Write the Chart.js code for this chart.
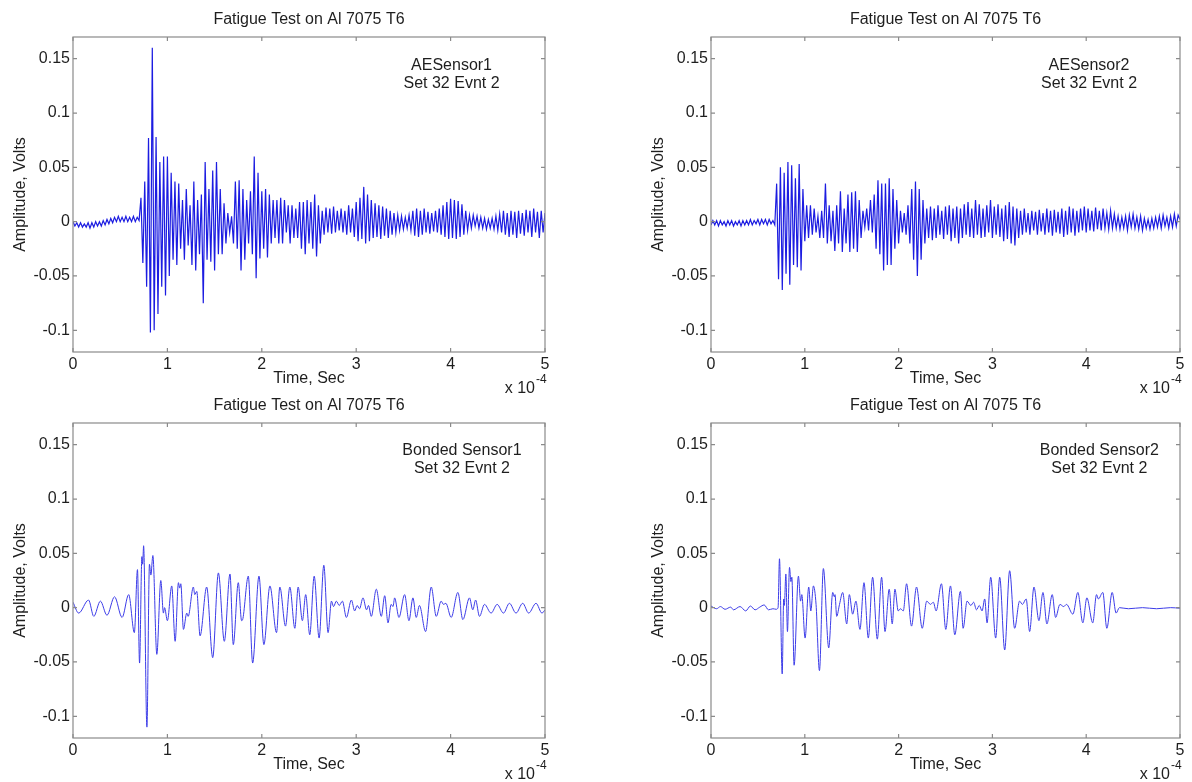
<!DOCTYPE html>
<html>
<head>
<meta charset="utf-8">
<script src="https://cdn.jsdelivr.net/npm/chart.js@4/dist/chart.umd.min.js"></script>
<style>
  body { margin: 0; background: #fff; }
  .wrap { position: relative; width: 1192px; height: 782px; }
  canvas { position: absolute; }
</style>
</head>
<body>
<div class="wrap">
  <canvas id="ae1" width="596" height="396" style="left:0;top:0"></canvas>
  <canvas id="ae2" width="554" height="396" style="left:638px;top:0"></canvas>
  <canvas id="bs1" width="596" height="396" style="left:0;top:386px"></canvas>
  <canvas id="bs2" width="554" height="396" style="left:638px;top:386px"></canvas>
</div>
<script>
const TITLE = 'Fatigue Test on Al 7075 T6';
const X_LABEL = 'Time, Sec';
const Y_LABEL = 'Amplitude, Volts';
const TIME_TICKS = [0, 1, 2, 3, 4, 5];           // x 10^-4 s
const AMP_TICKS = [-0.1, -0.05, 0, 0.05, 0.1, 0.15];
const EVENT = 'Set 32 Evnt 2';

// AE sensors: sampled every 0.02 (x10^-4 s) from 0 to 5
const AE_STEP = 0.02;
const AE1_AMP = [
  0.000,-0.004,-0.001,-0.005,-0.001,-0.005,-0.002,-0.005,-0.001,-0.006,
  -0.001,-0.005,0.000,-0.004,0.000,-0.004,0.001,-0.003,0.002,-0.002,
  0.003,-0.001,0.004,0.000,0.005,0.000,0.004,0.000,0.005,0.000,
  0.004,0.000,0.005,0.000,0.004,0.001,
  0.022,-0.038,0.037,-0.060,0.077,-0.102,0.160,-0.100,0.078,-0.085,
  0.055,-0.060,0.060,-0.068,0.060,-0.050,0.045,-0.035,0.037,-0.040,
  0.035,-0.025,0.020,-0.035,0.030,-0.022,0.015,-0.040,0.037,-0.045,
  0.020,-0.030,0.025,-0.075,0.055,-0.035,0.030,
  -0.037,0.047,-0.045,0.055,-0.030,0.030,-0.030,0.017,-0.020,0.008,
  -0.010,0.005,-0.020,0.037,-0.025,0.038,-0.045,0.030,-0.035,0.020,
  -0.020,0.028,-0.030,0.060,-0.052,0.045,-0.034,0.028,-0.025,0.030,
  -0.033,0.025,-0.020,0.020,-0.015,0.020,-0.020,0.022,-0.020,0.020,
  -0.010,0.015,-0.020,0.015,-0.015,0.012,-0.015,0.018,-0.025,0.018,
  -0.030,0.020,-0.020,0.018,-0.025,0.025,-0.032,0.015,-0.020,0.010,
  -0.012,0.013,-0.010,0.012,-0.011,0.014,-0.010,0.010,-0.008,0.012,
  -0.010,0.010,-0.012,0.015,-0.010,0.012,-0.014,0.018,-0.018,0.022,
  -0.016,0.032,-0.020,0.025,-0.018,0.020,-0.015,0.017,-0.014,0.015,
  -0.016,0.014,-0.013,0.012,-0.015,0.010,-0.012,0.008,-0.010,0.006,
  -0.008,0.005,-0.007,0.004,-0.006,0.006,-0.008,0.010,-0.013,0.012,
  -0.014,0.010,-0.012,0.012,-0.010,0.009,-0.011,0.008,-0.009,0.010,
  -0.010,0.012,-0.012,0.015,-0.014,0.018,-0.016,0.021,-0.015,0.020,
  -0.016,0.019,-0.014,0.016,-0.012,0.010,-0.008,0.006,-0.006,0.006,
  -0.004,0.005,-0.006,0.004,-0.006,0.003,-0.007,0.002,-0.006,0.003,
  -0.007,0.005,-0.008,0.007,-0.010,0.010,-0.012,0.008,-0.014,0.010,
  -0.012,0.009,-0.015,0.010,-0.011,0.008,-0.013,0.011,-0.010,0.010,
  -0.014,0.012,-0.010,0.009,-0.015,0.010,-0.010,0.008
];
const AE2_AMP = [
  -0.003,0.001,-0.003,0.001,-0.004,0.001,-0.003,0.000,-0.004,0.001,
  -0.003,0.001,-0.004,0.000,-0.003,0.001,-0.004,0.001,-0.003,0.001,
  -0.003,0.002,-0.003,0.001,-0.002,0.002,-0.003,0.002,-0.002,0.002,
  -0.003,0.002,-0.002,0.001,-0.003,
  0.035,-0.053,0.050,-0.063,0.045,-0.048,0.055,-0.058,0.052,-0.040,
  0.040,-0.042,0.053,-0.045,0.030,-0.018,0.015,-0.015,0.015,-0.012,
  0.012,-0.010,0.005,-0.015,0.010,-0.015,0.035,-0.020,0.015,-0.018,
  0.010,-0.027,0.015,-0.020,0.028,-0.028,0.012,-0.020,0.025,-0.028,
  0.027,-0.025,0.028,-0.028,0.020,-0.015,0.010,-0.005,0.012,-0.008,
  0.020,-0.010,0.025,-0.025,0.038,-0.030,0.035,-0.045,0.035,-0.040,
  0.040,-0.040,0.030,-0.025,0.020,-0.020,0.010,-0.010,0.008,-0.012,
  0.015,-0.020,0.030,-0.035,0.037,-0.050,0.030,-0.035,0.020,-0.020,
  0.012,-0.015,0.014,-0.017,0.012,-0.015,0.015,-0.012,0.010,-0.016,
  0.014,-0.012,0.015,-0.018,0.012,-0.015,0.014,-0.020,0.012,-0.015,
  0.016,-0.012,0.018,-0.014,0.012,-0.015,0.020,-0.012,0.016,-0.015,
  0.012,-0.014,0.015,-0.010,0.020,-0.015,0.014,-0.012,0.016,-0.014,
  0.012,-0.018,0.015,-0.016,0.018,-0.020,0.014,-0.022,0.012,-0.015,
  0.010,-0.012,0.012,-0.010,0.008,-0.012,0.010,-0.008,0.009,-0.012,
  0.011,-0.009,0.008,-0.012,0.012,-0.010,0.010,-0.013,0.011,-0.010,
  0.009,-0.011,0.012,-0.014,0.010,-0.012,0.014,-0.010,0.012,-0.013,
  0.010,-0.010,0.012,-0.008,0.014,-0.010,0.012,-0.008,0.010,-0.009,
  0.013,-0.007,0.010,-0.008,0.012,-0.006,0.008,-0.007,0.010,-0.006,
  0.007,-0.006,0.005,-0.007,0.004,-0.006,0.005,-0.008,0.006,-0.005,
  0.007,-0.006,0.004,-0.007,0.005,-0.008,0.003,-0.006,0.002,-0.007,
  0.003,-0.006,0.004,-0.005,0.005,-0.006,0.006,-0.004,0.004,-0.006,
  0.005,-0.005,0.007,-0.004,0.006,0.002
];

// Bonded sensors: turning points (time x10^-4 s, volts)
const BS1_TIME = [
  0.000,0.060,0.165,0.220,0.290,0.360,0.440,0.520,0.590,0.650,
  0.683,0.705,0.730,0.738,0.748,0.783,0.810,0.825,0.846,0.888,
  0.930,0.958,0.970,1.000,1.046,1.082,1.117,1.130,1.142,1.170,
  1.205,1.220,1.275,1.290,1.311,1.346,1.416,1.480,1.540,1.603,
  1.663,1.698,1.751,1.786,1.800,1.857,1.903,1.970,2.022,2.086,
  2.156,2.191,2.251,2.297,2.350,2.385,2.430,2.465,2.508,2.555,
  2.607,2.657,2.702,2.738,2.760,2.790,2.820,2.854,2.896,2.949,
  2.984,3.010,3.035,3.072,3.110,3.130,3.160,3.213,3.266,3.302,
  3.337,3.370,3.390,3.407,3.453,3.513,3.559,3.601,3.636,3.670,
  3.735,3.795,3.848,3.900,3.925,3.950,4.006,4.077,4.130,4.200,
  4.235,4.265,4.306,4.359,4.429,4.493,4.560,4.623,4.693,4.764,
  4.827,4.905,4.968,5.000
];
const BS1_AMP = [
  0.005,-0.005,0.007,-0.008,0.006,-0.007,0.010,-0.009,0.012,-0.023,
  0.035,-0.051,0.047,0.040,0.057,-0.110,0.040,0.030,0.048,-0.043,
  0.025,-0.005,0.000,-0.012,0.020,-0.031,0.023,0.018,0.022,-0.020,
  -0.005,-0.008,0.019,0.012,0.015,-0.026,0.019,-0.046,0.032,-0.031,
  0.031,-0.034,0.023,-0.012,-0.010,0.029,-0.051,0.029,-0.034,0.020,
  -0.023,0.019,-0.017,0.019,-0.019,0.019,-0.012,0.012,-0.025,0.029,
  -0.028,0.039,-0.023,0.006,0.001,0.006,0.002,0.006,-0.009,0.007,
  -0.003,0.002,-0.001,0.009,-0.002,0.002,-0.008,0.017,-0.008,0.011,
  -0.014,0.003,0.001,0.009,-0.009,0.012,-0.012,0.009,-0.009,0.002,
  -0.022,0.019,-0.008,0.006,0.003,0.004,-0.009,0.014,-0.011,0.009,
  -0.002,0.007,-0.008,0.003,-0.005,0.003,-0.005,0.004,-0.005,0.004,
  -0.005,0.004,-0.005,-0.002
];
const BS2_TIME = [
  0.000,0.060,0.100,0.150,0.210,0.240,0.310,0.370,0.420,0.470,
  0.520,0.567,0.613,0.660,0.695,0.715,0.730,0.759,0.775,0.782,
  0.798,0.815,0.837,0.852,0.862,0.886,0.932,0.955,0.968,1.003,
  1.042,1.064,1.092,1.120,1.156,1.198,1.255,1.298,1.315,1.322,
  1.340,1.370,1.404,1.447,1.475,1.510,1.545,1.588,1.631,1.677,
  1.723,1.773,1.819,1.855,1.900,1.932,1.961,1.996,2.020,2.050,
  2.085,2.138,2.191,2.252,2.300,2.340,2.370,2.400,2.457,2.503,
  2.553,2.599,2.659,2.688,2.730,2.770,2.800,2.830,2.860,2.890,
  2.918,2.943,2.982,3.035,3.078,3.131,3.184,3.237,3.290,3.320,
  3.360,3.397,3.443,3.496,3.539,3.581,3.638,3.674,3.720,3.760,
  3.790,3.858,3.911,3.964,4.007,4.070,4.110,4.130,4.177,4.220,
  4.277,4.319,4.354,4.450,4.600,4.750,4.900,5.000
];
const BS2_AMP = [
  0.0015,-0.001,0.001,-0.0015,0.0005,-0.002,0.001,-0.003,0.0015,-0.002,
  0.0005,0.0025,-0.002,-0.001,-0.0015,0.000,0.045,-0.061,0.008,0.002,
  0.031,-0.022,0.037,0.024,0.028,-0.053,0.029,0.006,0.012,-0.028,
  0.019,-0.003,0.020,0.003,-0.058,0.036,-0.037,0.014,0.010,0.012,
  -0.008,0.003,0.014,-0.015,0.012,-0.006,0.006,-0.020,0.023,-0.028,
  0.028,-0.029,0.028,-0.022,0.017,-0.015,0.017,-0.003,-0.001,-0.003,
  0.022,-0.017,0.019,-0.019,0.006,0.003,0.005,-0.003,0.022,-0.020,
  0.020,-0.025,0.015,-0.019,0.006,0.002,0.005,-0.002,0.002,-0.003,
  0.008,-0.014,0.028,-0.028,0.028,-0.039,0.034,-0.019,0.006,0.003,
  0.008,-0.022,0.019,-0.012,0.014,-0.015,0.012,-0.009,0.003,0.001,
  0.003,-0.006,0.014,-0.014,0.009,-0.014,0.012,0.008,0.014,-0.019,
  0.014,-0.005,0.000,-0.001,0.000,-0.001,0.000,-0.0005
];

const FONT = '"Liberation Sans", Arial, sans-serif';
const TEXT_COLOR = '#1e1e1e';
const AXIS_COLOR = '#8a8a8a';

// draws the boxed axes, inward ticks and the labels MATLAB style
const matlabAxes = {
  id: 'matlabAxes',
  afterDraw(chart, args, opts) {
    const {ctx, chartArea: a, scales: {x, y}} = chart;
    ctx.save();
    ctx.strokeStyle = AXIS_COLOR;
    ctx.lineWidth = 1.2;
    ctx.strokeRect(a.left, a.top, a.right - a.left, a.bottom - a.top);
    ctx.beginPath();
    TIME_TICKS.forEach(t => {
      const px = x.getPixelForValue(t);
      ctx.moveTo(px, a.bottom); ctx.lineTo(px, a.bottom - 4);
      ctx.moveTo(px, a.top); ctx.lineTo(px, a.top + 4);
    });
    AMP_TICKS.forEach(v => {
      const py = y.getPixelForValue(v);
      ctx.moveTo(a.left, py); ctx.lineTo(a.left + 4, py);
      ctx.moveTo(a.right, py); ctx.lineTo(a.right - 4, py);
    });
    ctx.stroke();

    const cx = (a.left + a.right) / 2;
    ctx.fillStyle = TEXT_COLOR;
    ctx.font = '16px ' + FONT;
    ctx.textAlign = 'center';
    ctx.textBaseline = 'middle';
    ctx.fillText(TITLE, cx, a.top - 17);
    ctx.fillText(X_LABEL, cx, a.bottom + 27);

    ctx.save();
    ctx.translate(a.left - 52, (a.top + a.bottom) / 2);
    ctx.rotate(-Math.PI / 2);
    ctx.fillText(Y_LABEL, 0, 0);
    ctx.restore();

    ctx.textAlign = 'right';
    ctx.textBaseline = 'alphabetic';
    ctx.fillText('x 10', a.right - 10, a.bottom + 41);
    ctx.font = '12px ' + FONT;
    ctx.textAlign = 'left';
    ctx.fillText('-4', a.right - 9, a.bottom + 31);

    ctx.font = '16px ' + FONT;
    ctx.textAlign = 'center';
    ctx.textBaseline = 'middle';
    const lx = x.getPixelForValue(opts.noteX);
    const ly = y.getPixelForValue(opts.noteY);
    opts.note.forEach((line, i) => ctx.fillText(line, lx, ly + i * 18.5));
    ctx.restore();
  }
};

function makeChart(id, points, opts) {
  return new Chart(document.getElementById(id), {
    type: 'line',
    data: {
      datasets: [{
        data: points,
        borderColor: opts.color,
        borderWidth: opts.width,
        pointRadius: 0,
        tension: opts.smooth ? 0.4 : 0,
        cubicInterpolationMode: opts.smooth ? 'monotone' : 'default'
      }]
    },
    options: {
      responsive: false,
      animation: false,
      devicePixelRatio: 1,
      layout: { padding: { top: 37, right: opts.padRight, left: 0, bottom: 0 } },
      plugins: {
        legend: { display: false },
        tooltip: { enabled: false },
        matlabAxes: { note: opts.note, noteX: opts.noteX, noteY: opts.noteY }
      },
      scales: {
        x: {
          type: 'linear', min: 0, max: 5,
          afterBuildTicks: s => { s.ticks = TIME_TICKS.map(v => ({ value: v })); },
          afterFit: s => { s.height = 44; },
          grid: { display: false, drawTicks: false },
          border: { display: false },
          ticks: { color: TEXT_COLOR, font: { family: FONT, size: 16 }, padding: 3, maxRotation: 0, autoSkip: false }
        },
        y: {
          type: 'linear', min: -0.12, max: 0.17,
          afterBuildTicks: s => { s.ticks = AMP_TICKS.map(v => ({ value: v })); },
          afterFit: s => { s.width = 73; },
          grid: { display: false, drawTicks: false },
          border: { display: false },
          ticks: { color: TEXT_COLOR, font: { family: FONT, size: 16 }, padding: 3, autoSkip: false,
                   callback: v => String(v) }
        }
      }
    },
    plugins: [matlabAxes]
  });
}

const ae1Points = AE1_AMP.map((v, i) => ({ x: i * AE_STEP, y: v }));
const ae2Points = AE2_AMP.map((v, i) => ({ x: i * AE_STEP, y: v }));
const bs1Points = BS1_TIME.map((t, i) => ({ x: t, y: BS1_AMP[i] }));
const bs2Points = BS2_TIME.map((t, i) => ({ x: t, y: BS2_AMP[i] }));

makeChart('ae1', ae1Points, { color: 'rgb(28,28,225)', width: 1.2, padRight: 51, note: ['AESensor1', EVENT], noteX: 4.01, noteY: 0.144 });
makeChart('ae2', ae2Points, { color: 'rgb(28,28,225)', width: 1.2, padRight: 12, note: ['AESensor2', EVENT], noteX: 4.03, noteY: 0.144 });
makeChart('bs1', bs1Points, { color: 'rgb(60,60,232)', width: 1, padRight: 51, smooth: true, note: ['Bonded Sensor1', EVENT], noteX: 4.12, noteY: 0.145 });
makeChart('bs2', bs2Points, { color: 'rgb(60,60,232)', width: 1, padRight: 12, smooth: true, note: ['Bonded Sensor2', EVENT], noteX: 4.14, noteY: 0.145 });
</script>
</body>
</html>
